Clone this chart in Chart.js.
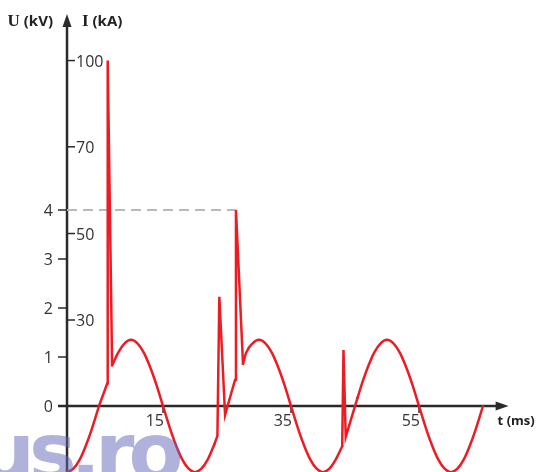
<!DOCTYPE html>
<html><head><meta charset="utf-8">
<script src="https://cdn.jsdelivr.net/npm/chart.js@4.4.0/dist/chart.umd.min.js"></script>
<style>html,body{margin:0;padding:0;background:#fff;} #wrap{width:536px;height:472px;}</style>
</head><body><div id="wrap"><canvas id="c" width="536" height="472"></canvas></div>
<script>
// ---- data ----
const uTicks = [0, 1, 2, 3, 4];
const iTickLabels = ['30', '50', '70', '100'];
const iTickAtU = [1.755, 3.52, 5.29, 7.05];
const tTicks = [15, 35, 55];

// smooth (sinusoidal) parts of U(t); null separates pieces
const arcT = [0,1,2,3,4,5, 6,
  7.05,8,9,10,11,12,13,14,15,16,17,18,19,20,21,22,23, 25,
  27.5,28,29,30,31,32,33,34,35,36,37,38,39,40,41,42,43, 44,
  45.4,46,47,48,49,50,51,52,53,54,55,56,57,58,59,60,61,62,63,64,65];
const arcU = [-1.35,-1.28,-1.09,-0.79,-0.42,0, null,
  0.83,1.09,1.28,1.35,1.28,1.09,0.79,0.42,0,-0.42,-0.79,-1.09,-1.28,-1.35,-1.28,-1.09,-0.79, null,
  0.86,1.09,1.28,1.35,1.28,1.09,0.79,0.42,0,-0.42,-0.79,-1.09,-1.28,-1.35,-1.28,-1.09,-0.82, null,
  0.17,0.42,0.79,1.09,1.28,1.35,1.28,1.09,0.79,0.42,0,-0.42,-0.79,-1.09,-1.28,-1.35,-1.28,-1.09,-0.79,-0.42,0];

// sharp (arc / spike) parts of U(t)
const spikeT = [5,6.28,6.36,7.05, 15, 23,23.5,23.8,24.7,26.25,26.4,27.5, 35, 43,43.2,43.55,45.4];
const spikeU = [0,0.46,7.05,0.83, null, -0.79,-0.61,2.23,-0.18,0.53,4.0,0.86, null, -0.82,1.14,-0.63,0.17];

// dashed reference level at 4 kV
const limitT = [0, 26.4];
const limitU = [4, 4];

const toPts = (xs, ys) => xs.map((t, i) => ({x: t, y: ys[i]}));

const RED = '#ec1c24';
const AX = '#2a2a2a';
const TXT = '#333333';

const axisPlugin = {
  id: 'axisPlugin',
  beforeDatasetsDraw(chart) {
    const {ctx, scales: {x, y}} = chart;
    const x0 = x.getPixelForValue(0), y0 = y.getPixelForValue(0);
    const yTop = y.getPixelForValue(8);
    const xEnd = x.getPixelForValue(69);
    ctx.save();
    ctx.strokeStyle = AX; ctx.fillStyle = AX;
    ctx.lineWidth = 2.5;
    // y axis + arrow
    ctx.beginPath(); ctx.moveTo(x0, chart.chartArea.bottom + 2); ctx.lineTo(x0, yTop + 8); ctx.stroke();
    ctx.beginPath(); ctx.moveTo(x0, yTop); ctx.lineTo(x0 - 4.5, yTop + 13); ctx.lineTo(x0 + 4.5, yTop + 13); ctx.closePath(); ctx.fill();
    // x axis + arrow
    ctx.beginPath(); ctx.moveTo(x0 - 9, y0); ctx.lineTo(xEnd - 8, y0); ctx.stroke();
    ctx.beginPath(); ctx.moveTo(xEnd, y0); ctx.lineTo(xEnd - 13, y0 - 4.5); ctx.lineTo(xEnd - 13, y0 + 4.5); ctx.closePath(); ctx.fill();

    ctx.lineWidth = 1.5;
    ctx.font = '16px "Open Sans"';
    ctx.fillStyle = TXT;
    // U ticks (left)
    ctx.textAlign = 'right'; ctx.textBaseline = 'alphabetic';
    uTicks.forEach(v => {
      const py = y.getPixelForValue(v);
      ctx.beginPath(); ctx.moveTo(x0 - 9, py); ctx.lineTo(x0, py); ctx.stroke();
      ctx.fillText(String(v), x0 - 14, py + 6);
    });
    // I ticks (right)
    ctx.textAlign = 'left';
    iTickAtU.forEach((v, i) => {
      const py = y.getPixelForValue(v);
      ctx.beginPath(); ctx.moveTo(x0, py); ctx.lineTo(x0 + 8, py); ctx.stroke();
      ctx.fillText(iTickLabels[i], x0 + 9, py + 6);
    });
    // t ticks
    ctx.textAlign = 'right';
    tTicks.forEach(v => {
      const px = x.getPixelForValue(v);
      ctx.beginPath(); ctx.moveTo(px, y0); ctx.lineTo(px, y0 + 7); ctx.stroke();
      ctx.fillText(String(v), px + 1, y0 + 20);
    });

    // axis titles
    ctx.fillStyle = '#222';
    const tb = yTop + 12;
    ctx.textAlign = 'left';
    const serifF = 'bold 17px "Liberation Serif"';
    const sansF = 'bold 15px "Open Sans"';
    ctx.font = serifF;
    const uW = ctx.measureText('U').width;
    ctx.font = sansF;
    const kvW = ctx.measureText(' (kV)').width;
    let sx = x0 - 14 - uW - kvW;
    ctx.font = serifF; ctx.fillText('U', sx, tb);
    ctx.font = sansF; ctx.fillText(' (kV)', sx + uW, tb);
    sx = x0 + 15;
    ctx.font = serifF; ctx.fillText('I', sx, tb);
    const iW = ctx.measureText('I').width;
    ctx.font = sansF; ctx.fillText(' (kA)', sx + iW, tb);
    ctx.font = 'bold 13px "Open Sans"';
    ctx.fillText('t (ms)', xEnd - 11, y0 + 19);
    ctx.restore();
  },
  afterDraw(chart) {
    const {ctx} = chart;
    ctx.save();
    ctx.fillStyle = 'rgba(97,101,185,0.5)';
    ctx.font = 'bold 80px "DejaVu Sans"';
    ctx.textAlign = 'left'; ctx.textBaseline = 'alphabetic';
    try { ctx.letterSpacing = '-6px'; } catch (e) {}
    ctx.fillText('us.ro', -22, 480);
    ctx.restore();
  }
};

new Chart(document.getElementById('c'), {
  type: 'line',
  data: {
    datasets: [
      { data: toPts(limitT, limitU), borderColor: '#b9b9b9', borderWidth: 2, borderDash: [10, 6],
        pointRadius: 0, tension: 0, order: 3 },
      { data: toPts(arcT, arcU), borderColor: RED, borderWidth: 2.5, pointRadius: 0,
        cubicInterpolationMode: 'monotone', spanGaps: false, borderCapStyle: 'round', borderJoinStyle: 'round', order: 1 },
      { data: toPts(spikeT, spikeU), borderColor: RED, borderWidth: 2.5, pointRadius: 0,
        tension: 0, spanGaps: false, borderCapStyle: 'round', borderJoinStyle: 'miter', order: 2 }
    ]
  },
  options: {
    responsive: false,
    animation: false,
    devicePixelRatio: 1,
    layout: { padding: 0 },
    plugins: { legend: { display: false }, tooltip: { enabled: false }, title: { display: false } },
    events: [],
    scales: {
      x: { type: 'linear', min: -10.47, max: 73.28, display: false },
      y: { type: 'linear', min: -1.347, max: 8.286, display: false }
    }
  },
  plugins: [axisPlugin]
});
</script>
</body></html>
